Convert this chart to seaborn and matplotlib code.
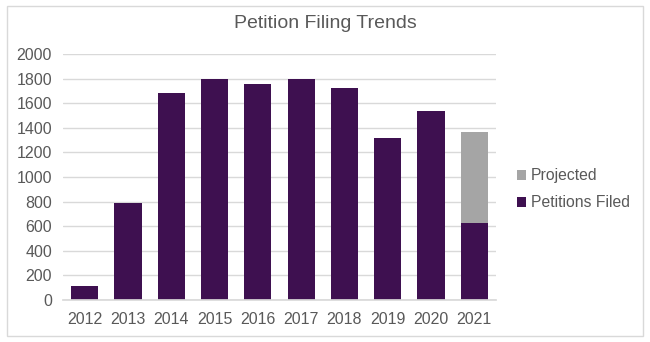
import matplotlib
matplotlib.use("Agg")
import matplotlib.pyplot as plt
import seaborn as sns
import pandas as pd
from matplotlib.patches import Rectangle

years = ["2012", "2013", "2014", "2015", "2016", "2017", "2018", "2019", "2020", "2021"]
filed = [110, 790, 1680, 1800, 1760, 1800, 1720, 1320, 1540, 630]
projected = [0, 0, 0, 0, 0, 0, 0, 0, 0, 735]
yticks = [0, 200, 400, 600, 800, 1000, 1200, 1400, 1600, 1800, 2000]

sns.set_theme(style="white")
plt.rcParams['font.family'] = ['Liberation Sans', 'DejaVu Sans']

text_color = "#595959"
purple = "#3e1050"
grey = "#a5a5a5"

df = pd.DataFrame({"year": years, "filed": filed, "projected": projected})
df["total"] = df["filed"] + df["projected"]

fig = plt.figure(figsize=(6.5, 3.42), dpi=100)
ax = fig.add_axes([63/650, 1 - 300/342, (496-63)/650, (300-54)/342])

sns.barplot(data=df, x="year", y="total", color=grey, width=0.63, ax=ax,
            saturation=1, label="Projected", linewidth=0)
sns.barplot(data=df, x="year", y="filed", color=purple, width=0.63, ax=ax,
            saturation=1, label="Petitions Filed", linewidth=0)

ax.set_ylim(0, 2000)
ax.set_yticks(yticks)
ax.set_xlim(-0.5, len(years) - 0.5)
ax.set_xlabel("")
ax.set_ylabel("")
ax.yaxis.grid(True, color="#d9d9d9", linewidth=1)
ax.set_axisbelow(True)
for s in ["top", "right", "left"]:
    ax.spines[s].set_visible(False)
ax.spines["bottom"].set_color("#d9d9d9")
ax.tick_params(axis="both", colors=text_color, labelsize=11.5, length=0)
ax.tick_params(axis="x", pad=9)
ax.tick_params(axis="y", pad=8)

fig.text(325/650, 1 - 24/342, "Petition Filing Trends", ha="center", va="center",
         fontsize=14, color=text_color)

leg = ax.legend(loc="center left", bbox_to_anchor=(1.015, 0.45), frameon=False,
                fontsize=11.3, handlelength=0.6, handleheight=0.6,
                handletextpad=0.3, labelspacing=0.75, labelcolor=text_color)

fig.patches.append(Rectangle((7/650, 6/342), 636/650, 330/342, transform=fig.transFigure,
                             fill=False, edgecolor="#d9d9d9", linewidth=1))

fig.savefig("out.png", dpi=100, facecolor="white")
